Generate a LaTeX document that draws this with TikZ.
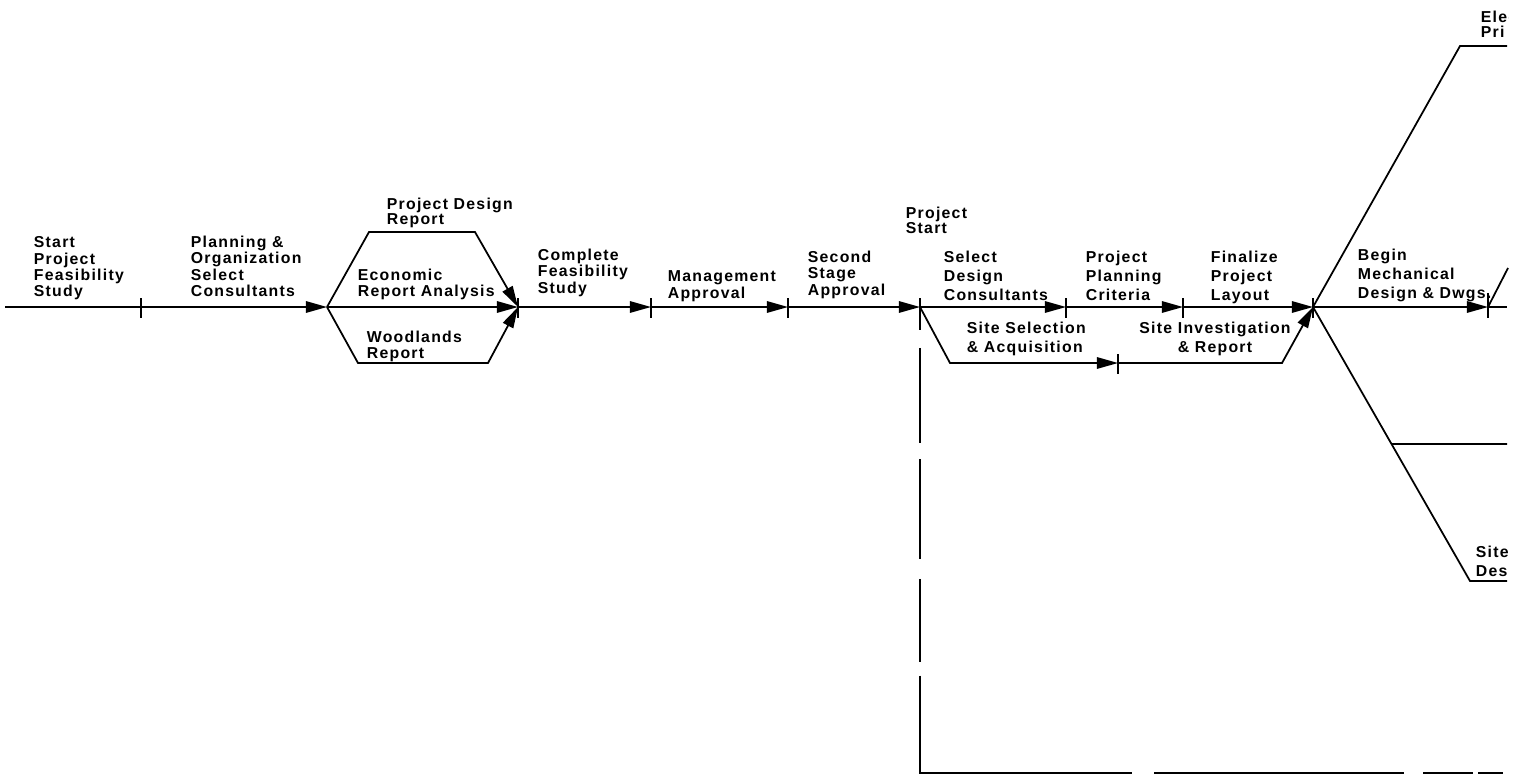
\documentclass[tikz,border=0pt]{standalone}
\usepackage{fontspec}
\usetikzlibrary{arrows.meta,calc}
\newfontfamily\lbl[LetterSpace=8]{Liberation Sans}
\begin{document}
\begin{tikzpicture}[x=0.02cm,y=-0.02cm,line width=1pt,
  arr/.style={-{Triangle[length=12pt,width=6.5pt]}},
  labA/.style={anchor=north west,inner sep=0pt,align=left,font=\lbl\bfseries\fontsize{9}{9.3}\selectfont},
  labB/.style={anchor=north west,inner sep=0pt,align=left,font=\lbl\bfseries\fontsize{9}{10.8}\selectfont},
  labC/.style={anchor=north west,inner sep=0pt,align=left,font=\lbl\bfseries\fontsize{9}{8.4}\selectfont},
  tick/.style={line width=1pt},
  dashedlink/.style={dash pattern=on 0pt off 23.25pt on 53.87pt off 9.64pt on 56.7pt off 11.34pt on 47.06pt off 7.94pt on 176.3pt off 12.47pt on 142.3pt off 10.77pt on 28.35pt off 2.84pt on 14.18pt off 56.7pt}]
\useasboundingbox (0,0) rectangle (1527,775);
% events
\coordinate (s0) at (5,307);
\coordinate (e1) at (141,307);
\coordinate (e2) at (327,307);
\coordinate (h1) at (369,232);
\coordinate (h2) at (475,232);
\coordinate (h3) at (358,363);
\coordinate (h4) at (488,363);
\coordinate (e3) at (518,307);
\coordinate (e4) at (651,307);
\coordinate (e5) at (788,307);
\coordinate (e6) at (920,307);
\coordinate (e7) at (1066,307);
\coordinate (e8) at (1183,307);
\coordinate (e9) at (1313,307);
\coordinate (l1) at (950,363);
\coordinate (l2) at (1118,363);
\coordinate (l3) at (1282,363);
\coordinate (e10) at (1488,307);
\coordinate (eend) at (1507,307);
\coordinate (u1) at (1460,46);
\coordinate (u2) at (1507,46);
\coordinate (d1) at (1470,581);
\coordinate (d2) at (1507,581);
\coordinate (b1) at ($(e9)!0.5!(d1)$);
\coordinate (b2) at (1507,444);
\coordinate (m1) at (1508,268);
\coordinate (c1) at (920,773);
\coordinate (c2) at (1507,773);
% connectors
\draw (s0) -- (e1);
\draw[arr] (e1) -- (e2);
\draw[arr] (e2) -- (h1) -- (h2) -- (e3);
\draw[arr] (e2) -- (e3);
\draw[arr] (e2) -- (h3) -- (h4) -- (e3);
\draw[arr] (e3) -- (e4);
\draw[arr] (e4) -- (e5);
\draw[arr] (e5) -- (e6);
\draw[arr] (e6) -- (e7);
\draw[arr] (e7) -- (e8);
\draw[arr] (e8) -- (e9);
\draw[arr] (e6) -- (l1) -- (l2);
\draw[arr] (l2) -- (l3) -- (e9);
\draw[arr] (e9) -- (e10);
\draw (e10) -- (eend);
\draw (e10) -- (m1);
\draw (e9) -- (u1) -- (u2);
\draw (e9) -- (d1) -- (d2);
\draw (b1) -- (b2);
\draw[dashedlink] (e6) -- (c1) -- (c2);
% ticks
\foreach \n in {e1,e3,e4,e5,e6,e7,e8,l2,e9}
  \draw[tick] ([yshift=5pt]\n) -- ([yshift=-6pt]\n);
\draw[tick] ([yshift=8pt]e10) -- ([yshift=-6pt]e10);
\draw[tick] ([yshift=5pt]e6) -- ([yshift=-13pt]e6);
% labels
\node[labA] (t1) at (33,236) {Start\\Project\\Feasibility\\Study};
\node[labA] (t2) at (190,235) {Planning \&\\Organization\\Select\\Consultants};
\node[labC] (t3) at (386,197) {Project Design\\Report};
\node[labA] (t4) at (357,268) {Economic\\Report Analysis};
\node[labA] (t5) at (366,330) {Woodlands\\Report};
\node[labA] (t6) at (537,248) {Complete\\Feasibility\\Study};
\node[labA] (t7) at (667,270) {Management\\Approval};
\node[labA] (t8) at (807,250) {Second\\Stage\\Approval};
\node[labC] (t9) at (905,206) {Project\\Start};
\node[labB] (t10) at (943,250) {Select\\Design\\Consultants};
\node[labB] (t11) at (1085,250) {Project\\Planning\\Criteria};
\node[labB] (t12) at (1210,250) {Finalize\\Project\\Layout};
\node[labB] (t13) at (966,321) {Site Selection\\\& Acquisition};
\node[labB,anchor=north,align=center] (t14) at (1215,321) {Site Investigation\\\& Report};
\node[labB] (t15) at (1357,248) {Begin\\Mechanical\\Design \& Dwgs.};
\begin{scope}
\clip (1400,0) rectangle (1508,775);
\node[labC] (t16) at (1480,10) {Elec\\Pri};
\node[labB] (t17) at (1475,545) {Site\\Des};
\end{scope}
\end{tikzpicture}
\end{document}
